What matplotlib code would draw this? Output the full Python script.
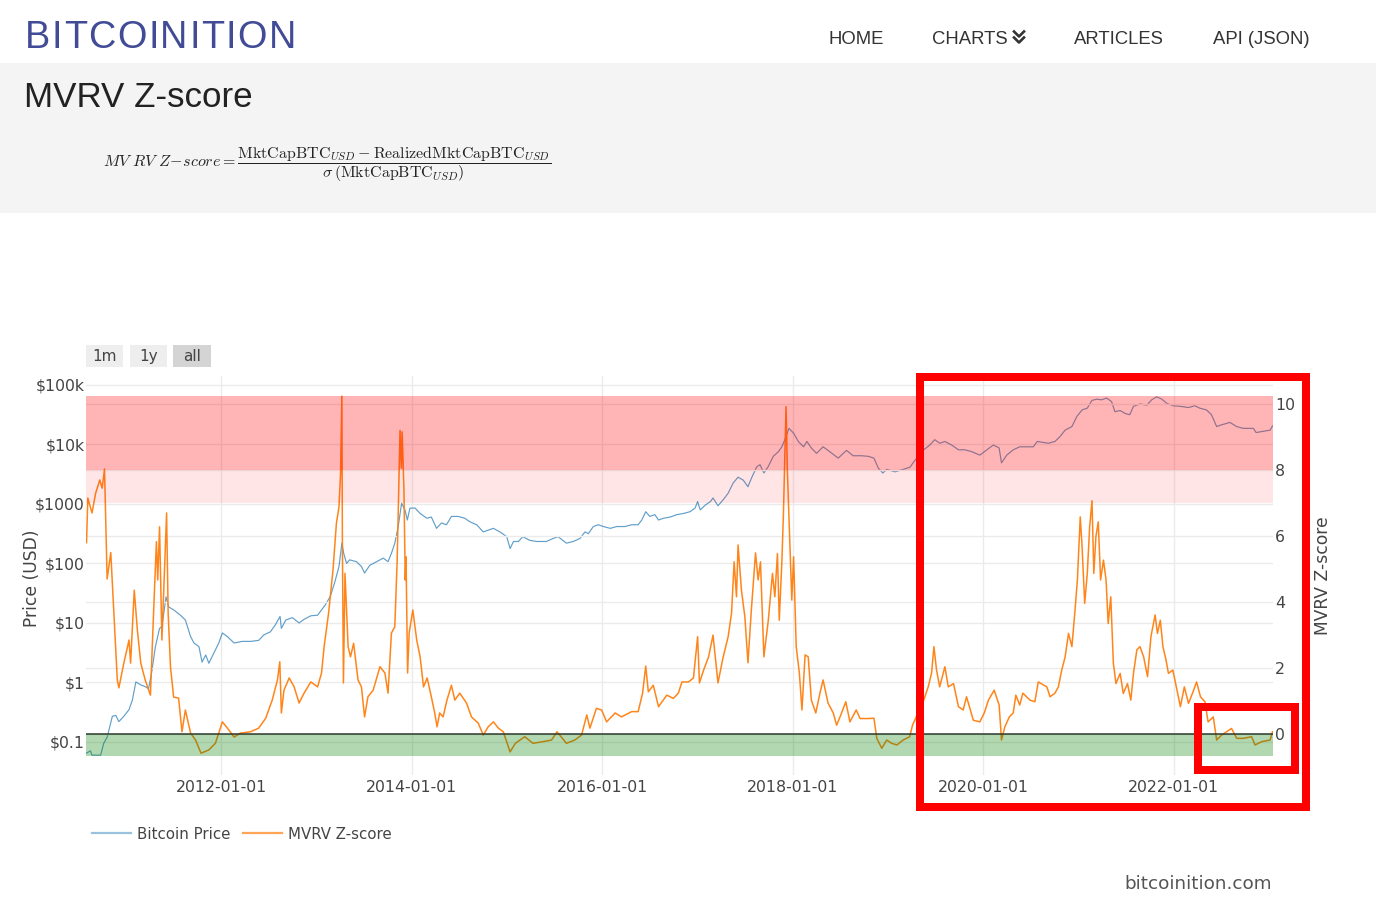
import matplotlib
matplotlib.use('Agg')
import matplotlib.pyplot as plt
from matplotlib.patches import Rectangle
from matplotlib.lines import Line2D
from matplotlib.ticker import NullLocator
import pandas as pd

plt.rcParams['mathtext.fontset'] = 'cm'
plt.rcParams['font.family'] = ['DejaVu Sans']

# ---- data ----
z_dates = [
    '2010-08-03', '2010-08-08', '2010-08-24', '2010-09-07', '2010-09-23', '2010-10-02', '2010-10-11',
    '2010-10-21', '2010-11-04', '2010-11-29', '2010-12-05', '2010-12-24', '2011-01-13', '2011-01-19',
    '2011-02-02', '2011-02-14', '2011-02-27', '2011-03-16', '2011-04-05', '2011-04-17', '2011-04-28',
    '2011-05-03', '2011-05-10', '2011-05-19', '2011-05-27', '2011-06-06', '2011-06-12', '2011-06-21',
    '2011-07-03', '2011-07-22', '2011-08-04', '2011-08-17', '2011-09-06', '2011-09-25', '2011-10-16',
    '2011-11-15', '2011-12-10', '2012-01-06', '2012-01-25', '2012-02-20', '2012-03-15', '2012-04-23',
    '2012-05-24', '2012-06-20', '2012-07-15', '2012-08-04', '2012-08-13', '2012-08-19', '2012-08-29',
    '2012-09-18', '2012-10-07', '2012-10-26', '2012-11-14', '2012-12-10', '2013-01-05', '2013-01-20',
    '2013-01-30', '2013-02-16', '2013-03-05', '2013-03-18', '2013-03-28', '2013-04-03', '2013-04-08',
    '2013-04-10', '2013-04-14', '2013-04-20', '2013-05-02', '2013-05-11', '2013-05-23', '2013-06-09',
    '2013-06-22', '2013-07-04', '2013-07-17', '2013-08-06', '2013-09-01', '2013-09-20', '2013-10-02',
    '2013-10-15', '2013-10-28', '2013-11-06', '2013-11-17', '2013-11-22', '2013-11-25', '2013-12-02',
    '2013-12-07', '2013-12-10', '2013-12-16', '2013-12-22', '2014-01-05', '2014-01-20', '2014-02-02',
    '2014-02-15', '2014-03-01', '2014-03-17', '2014-03-30', '2014-04-08', '2014-04-18', '2014-05-01',
    '2014-05-16', '2014-06-02', '2014-06-15', '2014-07-04', '2014-07-30', '2014-08-18', '2014-09-13',
    '2014-10-02', '2014-10-21', '2014-11-10', '2014-11-29', '2014-12-18', '2015-01-13', '2015-02-02',
    '2015-03-10', '2015-04-11', '2015-05-19', '2015-06-21', '2015-07-12', '2015-08-17', '2015-09-18',
    '2015-10-14', '2015-11-03', '2015-11-15', '2015-12-10', '2015-12-30', '2016-01-18', '2016-02-20',
    '2016-03-15', '2016-04-23', '2016-05-18', '2016-06-04', '2016-06-16', '2016-06-26', '2016-07-15',
    '2016-08-04', '2016-09-05', '2016-09-30', '2016-10-19', '2016-11-02', '2016-11-27', '2016-12-16',
    '2017-01-01', '2017-01-08', '2017-01-24', '2017-02-12', '2017-03-01', '2017-03-20', '2017-04-09',
    '2017-04-28', '2017-05-11', '2017-05-21', '2017-05-30', '2017-06-05', '2017-06-18', '2017-07-01',
    '2017-07-13', '2017-07-26', '2017-08-11', '2017-08-21', '2017-08-30', '2017-09-12', '2017-09-29',
    '2017-10-15', '2017-10-24', '2017-11-03', '2017-11-10', '2017-11-20', '2017-11-26', '2017-12-02',
    '2017-12-06', '2017-12-11', '2017-12-21', '2017-12-28', '2018-01-04', '2018-01-14', '2018-01-26',
    '2018-02-05', '2018-02-17', '2018-03-01', '2018-03-13', '2018-03-30', '2018-04-15', '2018-04-27',
    '2018-05-16', '2018-06-05', '2018-06-18', '2018-07-07', '2018-07-23', '2018-08-08', '2018-09-01',
    '2018-09-16', '2018-10-11', '2018-11-08', '2018-11-19', '2018-12-08', '2018-12-27', '2019-01-15',
    '2019-02-04', '2019-02-28', '2019-03-25', '2019-04-05', '2019-05-18', '2019-06-04', '2019-06-17',
    '2019-06-26', '2019-07-06', '2019-07-18', '2019-08-07', '2019-08-20', '2019-09-09', '2019-09-28',
    '2019-10-16', '2019-10-29', '2019-11-24', '2019-12-19', '2020-01-05', '2020-01-21', '2020-02-12',
    '2020-03-02', '2020-03-11', '2020-03-24', '2020-04-10', '2020-04-25', '2020-05-05', '2020-05-20',
    '2020-06-01', '2020-06-28', '2020-07-17', '2020-07-30', '2020-09-01', '2020-09-13', '2020-10-02',
    '2020-10-15', '2020-10-28', '2020-11-10', '2020-11-23', '2020-12-06', '2020-12-18', '2020-12-27',
    '2021-01-07', '2021-01-14', '2021-01-24', '2021-02-03', '2021-02-12', '2021-02-21', '2021-02-28',
    '2021-03-08', '2021-03-17', '2021-03-26', '2021-04-06', '2021-04-16', '2021-04-24', '2021-05-04',
    '2021-05-14', '2021-05-24', '2021-06-09', '2021-06-21', '2021-07-07', '2021-07-20', '2021-07-30',
    '2021-08-12', '2021-08-24', '2021-09-07', '2021-09-22', '2021-10-05', '2021-10-21', '2021-10-30',
    '2021-11-10', '2021-11-20', '2021-12-02', '2021-12-11', '2021-12-28', '2022-01-13', '2022-01-26',
    '2022-02-10', '2022-02-26', '2022-03-13', '2022-03-29', '2022-04-13', '2022-04-30', '2022-05-12',
    '2022-06-01', '2022-06-14', '2022-07-03', '2022-07-22', '2022-08-10', '2022-08-30', '2022-09-24',
    '2022-10-26', '2022-11-08', '2022-12-04', '2023-01-05', '2023-01-14',
]
z_values = [
    5.8, 7.15, 6.7, 7.3, 7.7, 7.45, 8.03,
    4.7, 5.5, 1.64, 1.4, 2.15, 2.85, 2.15,
    4.36, 3.15, 2.15, 1.64, 1.18, 3.66, 5.83,
    4.67, 6.28, 2.85, 4.6, 6.7, 3.66, 2.03,
    1.12, 1.09, 0.07, 0.73, 0.03, -0.18, -0.58,
    -0.48, -0.28, 0.37, 0.18, -0.09, 0.03, 0.07,
    0.18, 0.48, 1.03, 1.64, 2.19, 0.64, 1.33,
    1.7, 1.43, 0.94, 1.24, 1.58, 1.43, 1.85,
    2.65, 3.66, 4.97, 6.38, 6.89, 7.9, 10.24,
    5.79, 1.55, 4.87, 2.65, 2.34, 2.75, 1.64,
    1.43, 0.52, 1.13, 1.33, 2.04, 1.85, 1.24,
    3.06, 3.25, 5.27, 9.2, 8.06, 9.16, 7.39,
    4.67, 5.37, 1.85, 3.06, 3.76, 2.85, 2.34,
    1.43, 1.7, 1.13, 0.64, 0.22, 0.64, 0.52,
    1.03, 1.48, 1.03, 1.24, 0.94, 0.52, 0.33,
    -0.03, 0.22, 0.37, 0.18, 0.07, -0.54, -0.28,
    -0.08, -0.28, -0.23, -0.18, 0.07, -0.28, -0.18,
    -0.03, 0.58, 0.18, 0.78, 0.73, 0.37, 0.64,
    0.52, 0.68, 0.68, 1.24, 2.06, 1.28, 1.48,
    0.83, 1.18, 1.08, 1.24, 1.58, 1.58, 1.7,
    2.95, 1.55, 1.94, 2.34, 3.0, 1.55, 2.34,
    2.95, 3.66, 5.22, 4.16, 5.73, 4.36, 3.56,
    2.16, 3.76, 5.49, 4.67, 5.22, 2.34, 3.45,
    4.87, 4.16, 5.47, 3.45, 5.22, 6.69, 8.7,
    9.92, 8.0, 5.68, 4.06, 5.37, 2.65, 1.85,
    0.73, 2.4, 2.34, 1.03, 0.64, 1.24, 1.64,
    0.94, 0.64, 0.27, 0.64, 0.98, 0.37, 0.73,
    0.47, 0.47, 0.48, -0.13, -0.43, -0.18, -0.28,
    -0.33, -0.18, -0.08, 0.27, 1.03, 1.43, 1.85,
    2.65, 1.94, 1.43, 2.04, 1.43, 1.53, 0.83,
    0.73, 1.13, 0.42, 0.37, 0.64, 1.03, 1.33,
    0.88, -0.18, 0.22, 0.52, 0.64, 1.18, 0.88,
    1.24, 1.03, 0.98, 1.58, 1.43, 1.13, 1.24,
    1.43, 1.94, 2.34, 3.05, 2.65, 3.76, 4.67,
    6.58, 5.68, 3.96, 4.87, 6.28, 7.07, 4.87,
    5.98, 6.43, 4.67, 5.27, 4.67, 3.35, 4.16,
    2.14, 1.53, 1.84, 1.23, 1.53, 1.03, 1.84,
    2.55, 2.65, 2.34, 1.74, 2.95, 3.61, 3.05,
    3.45, 2.65, 2.24, 1.84, 1.94, 1.33, 0.83,
    1.43, 0.93, 1.23, 1.58, 1.13, 0.98, 0.37,
    0.52, -0.18, -0.03, 0.07, 0.17, -0.13, -0.13,
    -0.08, -0.33, -0.23, -0.18, 0.07,
]

price_dates = [
    '2010-08-03', '2010-08-18', '2010-08-24', '2010-09-26', '2010-10-08', '2010-10-21', '2010-11-10',
    '2010-11-23', '2010-12-05', '2010-12-24', '2011-01-13', '2011-01-26', '2011-02-08', '2011-02-27',
    '2011-03-16', '2011-03-29', '2011-04-11', '2011-04-24', '2011-05-10', '2011-05-19', '2011-05-26',
    '2011-06-04', '2011-06-14', '2011-07-03', '2011-07-29', '2011-08-17', '2011-09-06', '2011-09-19',
    '2011-10-08', '2011-10-20', '2011-11-03', '2011-11-15', '2011-12-04', '2011-12-23', '2012-01-06',
    '2012-01-25', '2012-02-20', '2012-03-21', '2012-04-23', '2012-05-24', '2012-06-13', '2012-07-08',
    '2012-07-27', '2012-08-14', '2012-08-19', '2012-09-05', '2012-09-30', '2012-10-26', '2012-11-14',
    '2012-12-10', '2013-01-05', '2013-02-03', '2013-02-22', '2013-03-11', '2013-03-28', '2013-04-08',
    '2013-04-15', '2013-04-26', '2013-05-08', '2013-06-03', '2013-06-22', '2013-07-04', '2013-07-24',
    '2013-08-19', '2013-09-14', '2013-10-02', '2013-10-15', '2013-10-28', '2013-11-10', '2013-11-23',
    '2013-12-06', '2013-12-15', '2013-12-25', '2014-01-14', '2014-02-02', '2014-02-28', '2014-03-17',
    '2014-04-06', '2014-04-25', '2014-05-14', '2014-06-02', '2014-06-28', '2014-07-23', '2014-08-12',
    '2014-09-07', '2014-10-02', '2014-10-21', '2014-11-10', '2014-12-05', '2014-12-31', '2015-01-13',
    '2015-01-26', '2015-02-14', '2015-03-03', '2015-03-29', '2015-04-24', '2015-06-01', '2015-06-27',
    '2015-07-16', '2015-08-17', '2015-09-12', '2015-10-08', '2015-10-27', '2015-11-09', '2015-11-28',
    '2015-12-17', '2016-01-06', '2016-02-01', '2016-02-26', '2016-03-28', '2016-04-23', '2016-05-18',
    '2016-06-01', '2016-06-16', '2016-07-02', '2016-07-21', '2016-08-04', '2016-08-23', '2016-09-18',
    '2016-10-13', '2016-11-08', '2016-12-03', '2016-12-22', '2017-01-01', '2017-01-11', '2017-01-30',
    '2017-02-19', '2017-03-01', '2017-03-20', '2017-04-09', '2017-04-28', '2017-05-17', '2017-06-05',
    '2017-06-25', '2017-07-13', '2017-07-26', '2017-08-15', '2017-08-28', '2017-09-12', '2017-09-29',
    '2017-10-18', '2017-11-07', '2017-11-20', '2017-12-06', '2017-12-17', '2018-01-04', '2018-01-22',
    '2018-02-11', '2018-02-24', '2018-03-13', '2018-04-02', '2018-04-27', '2018-05-22', '2018-06-24',
    '2018-07-26', '2018-08-20', '2018-09-22', '2018-10-17', '2018-11-08', '2018-11-25', '2018-12-12',
    '2018-12-27', '2019-01-28', '2019-02-28', '2019-03-27', '2019-04-10', '2019-05-18', '2019-06-10',
    '2019-06-29', '2019-07-18', '2019-08-07', '2019-09-02', '2019-09-28', '2019-10-22', '2019-11-17',
    '2019-12-19', '2020-01-15', '2020-02-09', '2020-03-02', '2020-03-11', '2020-03-31', '2020-04-25',
    '2020-05-20', '2020-06-16', '2020-07-11', '2020-07-26', '2020-09-07', '2020-10-02', '2020-10-21',
    '2020-11-10', '2020-12-06', '2020-12-25', '2021-01-14', '2021-02-03', '2021-02-21', '2021-03-11',
    '2021-03-30', '2021-04-18', '2021-05-07', '2021-05-20', '2021-06-09', '2021-06-28', '2021-07-16',
    '2021-07-30', '2021-08-24', '2021-09-19', '2021-10-08', '2021-10-27', '2021-11-16', '2021-12-05',
    '2021-12-30', '2022-01-26', '2022-02-26', '2022-03-22', '2022-04-10', '2022-05-06', '2022-05-25',
    '2022-06-14', '2022-07-03', '2022-08-04', '2022-08-30', '2022-09-24', '2022-11-02', '2022-11-12',
    '2022-12-10', '2023-01-05', '2023-01-14',
]
price_values = [
    0.065, 0.071, 0.060, 0.060, 0.095, 0.12, 0.27,
    0.28, 0.22, 0.27, 0.35, 0.51, 1.02, 0.91,
    0.85, 0.79, 1.6, 4.0, 8.1, 8.7, 14.5,
    27.5, 18.6, 16.6, 13.5, 11.2, 5.9, 4.6,
    4.0, 2.2, 2.9, 2.1, 3.1, 4.6, 6.8,
    5.9, 4.6, 4.9, 4.9, 5.1, 6.3, 7.1,
    9.3, 12.9, 8.1, 11.2, 12.3, 10.0, 11.5,
    13.2, 13.5, 20, 27.5, 47, 89, 219,
    148, 100, 115, 107, 89, 69, 93,
    107, 123, 107, 148, 219, 417, 1023,
    794, 537, 851, 851, 692, 575, 603,
    389, 479, 447, 617, 617, 575, 501,
    447, 339, 363, 389, 339, 282, 178,
    234, 234, 282, 245, 234, 234, 263,
    282, 219, 234, 263, 339, 316, 417,
    447, 417, 389, 417, 417, 447, 447,
    537, 741, 617, 661, 537, 575, 603,
    661, 692, 741, 851, 1096, 794, 955,
    1096, 1259, 933, 1175, 1514, 2239, 2818,
    2512, 1950, 2692, 4169, 4571, 3311, 4266,
    6310, 7586, 9120, 13490, 18620, 15490, 11220,
    9120, 11220, 8710, 7080, 9120, 7586, 5890,
    7943, 6457, 6457, 6310, 5890, 3981, 3311,
    3802, 3467, 3802, 4169, 5129, 8128, 9772,
    12020, 10470, 11220, 9772, 8128, 8128, 7586,
    6607, 8128, 9772, 8710, 4898, 6607, 8128,
    9120, 9120, 9120, 11220, 10470, 11220, 13490,
    17380, 19950, 29510, 38020, 40740, 54950, 57540,
    56230, 60260, 52480, 35480, 37150, 33110, 31620,
    43650, 47860, 45710, 56230, 63100, 57540, 48980,
    44670, 43650, 41690, 44670, 40740, 38020, 31620,
    19950, 21380, 23440, 19950, 18620, 18620, 15850,
    16600, 17380, 20420,
]

price_ticks = [0.1, 1, 10, 100, 1000, 10000, 100000]
price_tick_labels = ['$0.1', '$1', '$10', '$100', '$1000', '$10k', '$100k']
z_ticks = [0, 2, 4, 6, 8, 10]
date_ticks = ['2012-01-01', '2014-01-01', '2016-01-01', '2018-01-01', '2020-01-01', '2022-01-01']

nav_items = ['HOME', 'CHARTS', 'ARTICLES', 'API (JSON)']
nav_x = [828, 932, 1074, 1213]
range_buttons = ['1m', '1y', 'all']

# ---- figure (positions in pixels of the 1376x905 page) ----
W, H = 1376, 905
fig = plt.figure(figsize=(W / 100, H / 100), dpi=100)
renderer = fig.canvas.get_renderer()


def fx(px):
    return px / W


def fy(py):
    return 1 - py / H


def text_width(s, **kw):
    t = fig.text(0, 0, s, **kw)
    w = t.get_window_extent(renderer).width
    t.remove()
    return w


def spaced_text(x0, x1, y, s, **kw):
    # letter-spaced text stretched between x0 and x1 (pixels)
    full = text_width(s, **kw)
    extra = (x1 - x0 - full) / (len(s) - 1)
    for i, ch in enumerate(s):
        offset = text_width(s[:i + 1], **kw) - text_width(ch, **kw)
        fig.text(fx(x0 + offset + i * extra), fy(y), ch, **kw)


# page header
fig.add_artist(Rectangle((0, fy(213)), 1, 150 / H, transform=fig.transFigure,
                         color='#f4f4f4', lw=0, zorder=0))
spaced_text(25, 296, 48.5, 'BITCOINITION', fontsize=27.3, color='#414b96',
            family='Liberation Sans', va='baseline')
for label, x in zip(nav_items, nav_x):
    fig.text(fx(x), fy(44.5), label, fontsize=13.3, color='#333333',
             family='Liberation Sans', va='baseline')
# double chevron next to CHARTS
for top in (31.5, 37.5):
    fig.add_artist(Line2D([fx(1014), fx(1019), fx(1024)], [fy(top), fy(top + 5), fy(top)],
                          transform=fig.transFigure, color='#333333', lw=1.9))

fig.text(fx(24), fy(107), 'MVRV Z-score', fontsize=25.2, color='#222222',
         family='Liberation Sans', va='baseline')
formula = (r'$MV\ RV\ Z\!-\!score = \dfrac{\mathrm{MktCapBTC}_{USD}-\mathrm{RealizedMktCapBTC}_{USD}}'
           r'{\sigma\,(\mathrm{MktCapBTC}_{USD})}$')
fig.text(fx(103), fy(164), formula, fontsize=11.5, color='#222222', va='center', ha='left')

# range selector buttons
for label, (x0, x1), col in zip(range_buttons, [(86, 123), (130, 167), (173, 211)],
                                ['#eeeeee', '#eeeeee', '#d4d4d4']):
    fig.add_artist(Rectangle((fx(x0), fy(367)), (x1 - x0) / W, 22 / H,
                             transform=fig.transFigure, color=col, lw=0))
    fig.text(fx((x0 + x1) / 2), fy(356), label, fontsize=11, color='#444444',
             ha='center', va='center')

# ---- chart ----
ax = fig.add_axes([fx(86), fy(775), (1273 - 86) / W, (775 - 376) / H])
ax2 = ax.twinx()

pd_price_dates = pd.to_datetime(price_dates)
pd_z_dates = pd.to_datetime(z_dates)

ax.plot(pd_price_dates, price_values, color='#1f77b4', lw=0.85, alpha=0.7, zorder=2)
ax.set_yscale('log')
ax.set_ylim(10 ** -1.555, 10 ** 5.15)
ax.set_xlim(pd.Timestamp('2010-08-01'), pd.Timestamp('2023-01-16'))
ax.set_yticks(price_ticks)
ax.set_yticklabels(price_tick_labels)
ax.yaxis.set_minor_locator(NullLocator())
ax.set_xticks(pd.to_datetime(date_ticks))
ax.set_xticklabels(date_ticks)
ax.grid(True, color='#ebebeb', lw=1.0, zorder=0)
ax.set_axisbelow(True)

ax2.plot(pd_z_dates, z_values, color='#ff7f0e', lw=1.1, alpha=0.95, zorder=2)
ax2.set_ylim(-1.24, 10.85)
ax2.set_yticks(z_ticks)
ax2.yaxis.grid(True, color='#ebebeb', lw=1.0, zorder=0)
ax2.set_axisbelow(True)

# zones
ax2.axhspan(8, 10.25, color=(1, 0, 0), alpha=0.29, lw=0, zorder=3)
ax2.axhspan(7, 8, color=(1, 0, 0), alpha=0.1, lw=0, zorder=3)
ax2.axhspan(-0.65, 0, color=(0, 0.5, 0), alpha=0.3, lw=0, zorder=3)
ax2.axhline(0, color='#2f3a2f', lw=1.1, zorder=4)

for a in (ax, ax2):
    for s in a.spines.values():
        s.set_visible(False)
ax.tick_params(axis='y', length=0, labelsize=11.3, labelcolor='#444444', pad=1)
ax.tick_params(axis='x', length=0, labelsize=11.3, labelcolor='#444444', pad=3.5)
ax2.tick_params(axis='y', length=0, labelsize=11.3, labelcolor='#444444', pad=1.5)

fig.text(fx(32), fy(578), 'Price (USD)', rotation=90, fontsize=12.3, color='#444444',
         ha='center', va='center')
fig.text(fx(1323), fy(576), 'MVRV Z-score', rotation=90, fontsize=12.3, color='#444444',
         ha='center', va='center')

legend_handles = [Line2D([], [], color='#1f77b4', lw=1.6, alpha=0.45),
                  Line2D([], [], color='#ff7f0e', lw=1.6, alpha=0.7)]
fig.legend(legend_handles, ['Bitcoin Price', 'MVRV Z-score'], loc='center left',
           bbox_to_anchor=(fx(92), fy(834)), ncol=2, frameon=False, fontsize=10.8,
           handlelength=2.6, handletextpad=0.4, columnspacing=0.85,
           borderaxespad=0, borderpad=0, labelcolor='#444444')

fig.text(fx(1272), fy(889), 'bitcoinition.com', fontsize=13.2, color='#555555',
         ha='right', va='baseline')

# red highlight boxes
fig.add_artist(Rectangle((fx(919.5), fy(806.5)), (1305.5 - 919.5) / W, (806.5 - 377) / H,
                         transform=fig.transFigure, fill=False, ec='#ff0000', lw=5.76, zorder=10))
fig.add_artist(Rectangle((fx(1198), fy(770)), (1295 - 1198) / W, (770 - 707) / H,
                         transform=fig.transFigure, fill=False, ec='#ff0000', lw=5.76, zorder=10))

fig.savefig('out.png', dpi=100)
